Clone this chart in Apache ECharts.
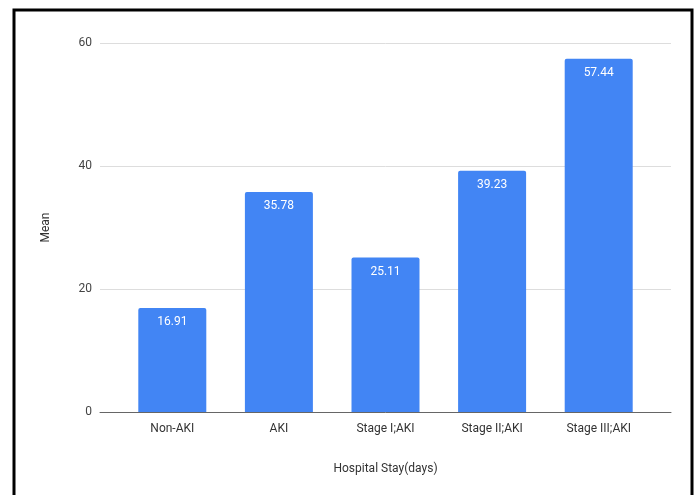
<!DOCTYPE html>
<html>
<head>
<meta charset="utf-8">
<script src="https://cdn.jsdelivr.net/npm/echarts@6/dist/echarts.min.js"></script>
<style>
  html, body { margin: 0; padding: 0; background: #fff; }
  #chart { width: 699px; height: 495px; }
</style>
</head>
<body>
<div id="chart"></div>
<script>
// Mean hospital stay by AKI group
const categories = ['Non-AKI', 'AKI', 'Stage I;AKI', 'Stage II;AKI', 'Stage III;AKI'];
const meanValues = [16.91, 35.78, 25.11, 39.23, 57.44];
const yTicks = [0, 20, 40, 60];

const yMin = yTicks[0];
const yMax = yTicks[yTicks.length - 1];

const chart = echarts.init(document.getElementById('chart'), null, { renderer: 'canvas' });
chart.setOption({
  backgroundColor: '#fff',
  animation: false,
  textStyle: { fontFamily: 'Roboto, Arial, sans-serif' },
  graphic: [{
    type: 'rect',
    shape: { x: 14, y: 10, width: 678, height: 500 },
    style: { fill: 'none', stroke: '#000', lineWidth: 3 },
    silent: true
  }],
  // grid 0: wide frame carrying gridlines, baseline and y labels
  // grid 1: inset area where the bars sit
  grid: [
    { left: 100, right: 28, top: 43, bottom: 83 },
    { left: 119, right: 47, top: 43, bottom: 83 }
  ],
  xAxis: [{
    gridIndex: 0,
    type: 'category',
    data: categories,
    name: 'Hospital Stay(days)',
    nameLocation: 'middle',
    nameGap: 51,
    nameTextStyle: { color: '#333', fontSize: 12 },
    axisLine: { lineStyle: { color: '#666', width: 1 } },
    axisTick: { show: false },
    axisLabel: { show: false }
  }, {
    gridIndex: 1,
    type: 'category',
    data: categories,
    axisLine: { show: false },
    axisTick: { show: false },
    axisLabel: { color: '#333', fontSize: 12, margin: 11 }
  }],
  yAxis: [{
    gridIndex: 0,
    type: 'value',
    min: yMin,
    max: yMax,
    interval: 20,
    name: 'Mean',
    nameLocation: 'middle',
    nameGap: 48,
    nameRotate: 90,
    nameTextStyle: { color: '#333', fontSize: 12 },
    axisLine: { show: false },
    axisTick: { show: false },
    axisLabel: { color: '#444', fontSize: 12, margin: 8 },
    splitLine: { lineStyle: { color: '#ddd', width: 1 } }
  }, {
    gridIndex: 1,
    type: 'value',
    min: yMin,
    max: yMax,
    interval: 20,
    axisLine: { show: false },
    axisTick: { show: false },
    axisLabel: { show: false },
    splitLine: { show: false }
  }],
  series: [{
    type: 'bar',
    xAxisIndex: 1,
    yAxisIndex: 1,
    data: meanValues,
    barWidth: 68,
    itemStyle: { color: '#4285f4', borderRadius: [2, 2, 0, 0] },
    label: {
      show: true,
      position: 'insideTop',
      distance: 8,
      color: '#fff',
      fontSize: 12,
      formatter: p => p.value.toFixed(2)
    }
  }]
});
</script>
</body>
</html>
